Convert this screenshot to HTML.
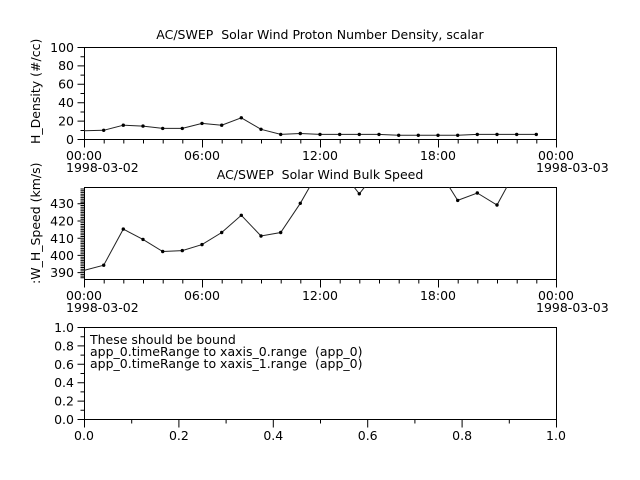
<!DOCTYPE html>
<html><head><meta charset="utf-8"><style>body{margin:0;background:#fff}svg{display:block}text{font-family:"DejaVu Sans","Liberation Sans",sans-serif;font-size:12.5px;fill:#000;white-space:pre}</style></head><body>
<svg width="640" height="480" viewBox="0 0 640 480" xmlns="http://www.w3.org/2000/svg" xml:space="preserve">
<defs><clipPath id="c2"><rect x="84" y="187" width="472" height="92"/></clipPath></defs>
<g stroke="#000" fill="none" stroke-width="1">
<rect x="84.5" y="47.5" width="472" height="92"/>
<rect x="84.5" y="187.5" width="472" height="92"/>
<rect x="84.5" y="327.5" width="472" height="92"/>
<path id="xt" d="M84.5 139.5v8M104.2 139.5v4M123.8 139.5v4M143.5 139.5v4M163.2 139.5v4M182.8 139.5v4M202.5 139.5v8M222.2 139.5v4M241.8 139.5v4M261.5 139.5v4M281.2 139.5v4M300.8 139.5v4M320.5 139.5v8M340.2 139.5v4M359.8 139.5v4M379.5 139.5v4M399.2 139.5v4M418.8 139.5v4M438.5 139.5v8M458.2 139.5v4M477.8 139.5v4M497.5 139.5v4M517.2 139.5v4M536.8 139.5v4M556.5 139.5v8"/>
<use href="#xt" y="140"/>
<path d="M84.5 419.5v8M131.7 419.5v4M178.9 419.5v8M226.1 419.5v4M273.3 419.5v8M320.5 419.5v4M367.7 419.5v8M414.9 419.5v4M462.1 419.5v8M509.3 419.5v4M556.5 419.5v8"/>
<path d="M84.5 139.5h-7M84.5 130.5h-4M84.5 121.1h-7M84.5 112h-4M84.5 102.7h-7M84.5 93.5h-4M84.5 84.3h-7M84.5 75.1h-4M84.5 65.9h-7M84.5 56.7h-4M84.5 47.5h-7"/>
<path d="M84.5 419.5h-7M84.5 410.3h-4M84.5 401.1h-7M84.5 391.9h-4M84.5 382.7h-7M84.5 373.5h-4M84.5 364.3h-7M84.5 355.1h-4M84.5 345.9h-7M84.5 336.7h-4M84.5 327.5h-7"/>
<path d="M84.5 189h-4M84.5 190.7h-4M84.5 192.4h-4M84.5 194.2h-4M84.5 195.9h-4M84.5 197.6h-4M84.5 199.3h-4M84.5 201h-4M84.5 202.8h-4M84.5 203.8h-7M84.5 205.5h-4M84.5 207.2h-4M84.5 209h-4M84.5 210.7h-4M84.5 212.4h-4M84.5 214.1h-4M84.5 215.8h-4M84.5 217.6h-4M84.5 219.3h-4M84.5 221h-7M84.5 222.7h-4M84.5 224.5h-4M84.5 226.2h-4M84.5 227.9h-4M84.5 229.6h-4M84.5 231.3h-4M84.5 233.1h-4M84.5 234.8h-4M84.5 236.5h-4M84.5 238.2h-7M84.5 240h-4M84.5 241.7h-4M84.5 243.4h-4M84.5 245.1h-4M84.5 246.8h-4M84.5 248.6h-4M84.5 250.3h-4M84.5 252h-4M84.5 253.7h-4M84.5 255.4h-7M84.5 257.2h-4M84.5 258.9h-4M84.5 260.6h-4M84.5 262.3h-4M84.5 264h-4M84.5 265.8h-4M84.5 267.5h-4M84.5 269.2h-4M84.5 270.9h-4M84.5 272.6h-7M84.5 274.4h-4M84.5 276.1h-4M84.5 277.8h-4"/>
<polyline stroke="#222" points="84,130.7 103.7,130.3 123.3,125.2 143,126.1 162.7,128.4 182.3,128.4 202,123.4 221.7,125.2 241.3,117.8 261,129.3 280.7,134.4 300.3,133.5 320,134.4 339.7,134.4 359.3,134.4 379,134.4 398.7,135.3 418.3,135.3 438,135.3 457.7,135.3 477.3,134.4 497,134.4 516.7,134.4 536.3,134.4"/>
<polyline clip-path="url(#c2)" stroke="#222" points="84,270.4 103.7,265.2 123.3,229.1 143,239.4 162.7,251.5 182.3,250.6 202,244.6 221.7,232.5 241.3,215.3 261,236 280.7,232.5 300.3,203.3 320,168.9 339.7,168.9 359.3,193.8 379,168.9 398.7,168.9 418.3,168.9 438,168.9 457.7,200.4 477.3,193 497,205 516.7,168.9 536.3,168.9"/>
</g>
<g fill="#000">
<circle cx="103.7" cy="130.3" r="1.7"/><circle cx="123.3" cy="125.2" r="1.7"/><circle cx="143" cy="126.1" r="1.7"/><circle cx="162.7" cy="128.4" r="1.7"/><circle cx="182.3" cy="128.4" r="1.7"/><circle cx="202" cy="123.4" r="1.7"/><circle cx="221.7" cy="125.2" r="1.7"/><circle cx="241.3" cy="117.8" r="1.7"/><circle cx="261" cy="129.3" r="1.7"/><circle cx="280.7" cy="134.4" r="1.7"/><circle cx="300.3" cy="133.5" r="1.7"/><circle cx="320" cy="134.4" r="1.7"/><circle cx="339.7" cy="134.4" r="1.7"/><circle cx="359.3" cy="134.4" r="1.7"/><circle cx="379" cy="134.4" r="1.7"/><circle cx="398.7" cy="135.3" r="1.7"/><circle cx="418.3" cy="135.3" r="1.7"/><circle cx="438" cy="135.3" r="1.7"/><circle cx="457.7" cy="135.3" r="1.7"/><circle cx="477.3" cy="134.4" r="1.7"/><circle cx="497" cy="134.4" r="1.7"/><circle cx="516.7" cy="134.4" r="1.7"/><circle cx="536.3" cy="134.4" r="1.7"/>
<circle cx="103.7" cy="265.2" r="1.7"/><circle cx="123.3" cy="229.1" r="1.7"/><circle cx="143" cy="239.4" r="1.7"/><circle cx="162.7" cy="251.5" r="1.7"/><circle cx="182.3" cy="250.6" r="1.7"/><circle cx="202" cy="244.6" r="1.7"/><circle cx="221.7" cy="232.5" r="1.7"/><circle cx="241.3" cy="215.3" r="1.7"/><circle cx="261" cy="236" r="1.7"/><circle cx="280.7" cy="232.5" r="1.7"/><circle cx="300.3" cy="203.3" r="1.7"/><circle cx="359.3" cy="193.8" r="1.7"/><circle cx="457.7" cy="200.4" r="1.7"/><circle cx="477.3" cy="193" r="1.7"/><circle cx="497" cy="205" r="1.7"/>
</g>
<text x="320" y="39" text-anchor="middle">AC/SWEP  Solar Wind Proton Number Density, scalar</text>
<text x="320" y="179" text-anchor="middle">AC/SWEP  Solar Wind Bulk Speed</text>
<g text-anchor="end">
<text x="74" y="144">0</text><text x="74" y="125.5">20</text><text x="74" y="107">40</text><text x="74" y="88.5">60</text><text x="74" y="70">80</text><text x="74" y="52">100</text>
<text x="74" y="277">390</text><text x="74" y="260">400</text><text x="74" y="243">410</text><text x="74" y="225.5">420</text><text x="74" y="208">430</text>
<text x="74" y="424">0.0</text><text x="74" y="405.5">0.2</text><text x="74" y="387">0.4</text><text x="74" y="369">0.6</text><text x="74" y="350.5">0.8</text><text x="74" y="332">1.0</text>
</g>
<text transform="translate(40,144) rotate(-90)">H_Density (#/cc)</text>
<text transform="translate(40,284) rotate(-90)">:W_H_Speed (km/s)</text>
<g text-anchor="middle">
<text x="84" y="160">00:00</text><text x="202" y="160">06:00</text><text x="320" y="160">12:00</text><text x="438" y="160">18:00</text><text x="556" y="160">00:00</text>
<text x="84" y="300">00:00</text><text x="202" y="300">06:00</text><text x="320" y="300">12:00</text><text x="438" y="300">18:00</text><text x="556" y="300">00:00</text>
<text x="84" y="440">0.0</text><text x="178.9" y="440">0.2</text><text x="273.3" y="440">0.4</text><text x="367.7" y="440">0.6</text><text x="462.1" y="440">0.8</text><text x="556" y="440">1.0</text>
</g>
<text x="66" y="172">1998-03-02</text><text x="536" y="172">1998-03-03</text>
<text x="66" y="312">1998-03-02</text><text x="536" y="312">1998-03-03</text>
<text x="90" y="344">These should be bound</text>
<text x="90" y="356">app_0.timeRange to xaxis_0.range  (app_0)</text>
<text x="90" y="368">app_0.timeRange to xaxis_1.range  (app_0)</text>
</svg>
</body></html>
